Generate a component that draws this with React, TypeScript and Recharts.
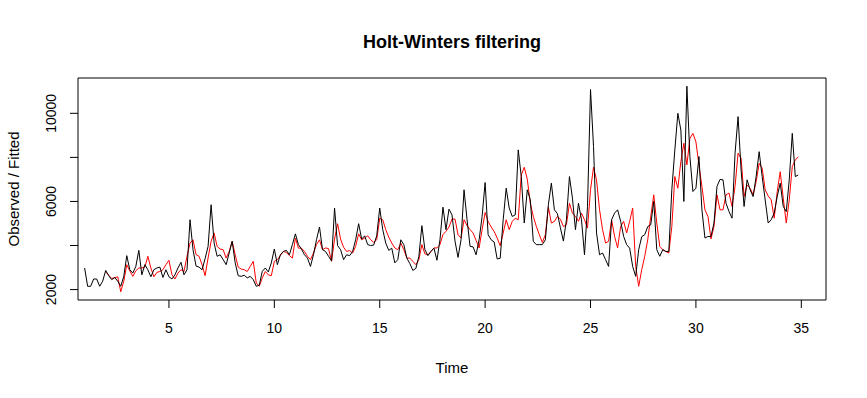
import { LineChart, Line, XAxis, YAxis, ReferenceArea } from "recharts";

// daily series, weekly season: time = START + i / FREQ
const START = 1;
const FREQ = 7;

const observed = [
  2980, 2150, 2150, 2480, 2480, 2150, 2380, 2870, 2630, 2450,
  2550, 2380, 2150, 2600, 3540, 2900, 2750, 3050, 3780, 2670,
  3130, 2900, 2580, 2900, 2980, 3020, 2550, 2900, 2580, 2480,
  2670, 2980, 3240, 2670, 2900, 5170, 3810, 3070, 3020, 2900,
  3400, 3960, 5850, 4110, 3510, 3580, 3360, 3130, 3660, 4190,
  3210, 2630, 2600, 2650, 2530, 2600, 2450, 2150, 2200, 2830,
  2980, 2800, 3210, 3840, 3130, 3580, 3730, 3780, 3580, 4040,
  4530, 4040, 3840, 3580, 3430, 3050, 3580, 4260, 4840, 3810,
  3730, 3510, 3300, 5700, 4000, 3810, 3360, 3580, 3540, 3730,
  4260, 4990, 4290, 4440, 4040, 4000, 4020, 4440, 5700, 4720,
  4110, 3780, 3880, 3210, 3360, 4260, 4040, 3430, 3180, 2870,
  2960, 3510, 4900, 3810, 3540, 3730, 3880, 3330, 4260, 5740,
  4720, 5650, 5390, 4200, 3460, 4260, 6530, 5170, 3960, 3940,
  3580, 4260, 5320, 6860, 4490, 4260, 4160, 3390, 3420, 5170,
  6600, 5700, 5320, 5390, 8340, 7130, 5020, 6530, 6080, 4190,
  4040, 4040, 4040, 4260, 5850, 6830, 5620, 5450, 4800, 4200,
  5170, 7130, 6150, 4720, 5920, 5170, 3580, 5770, 11080, 8490,
  4570, 3580, 3660, 3360, 3050, 5170, 5470, 5620, 5100, 4410,
  4040, 3880, 3050, 2600, 3810, 4400, 4490, 4860, 4940, 6000,
  3810, 3510, 3810, 3730, 3730, 6530, 8340, 10000, 9240, 6000,
  11230, 8040, 6450, 6600, 8040, 5620, 4340, 4410, 4410, 5020,
  6680, 7000, 6980, 5920, 5540, 5240, 8190, 9850, 7430, 5770,
  6980, 6530, 6220, 7130, 8260, 7130, 6070, 5020, 5170, 5470,
  6220, 6830, 5770, 5540, 6980, 9090, 7130, 7200,
];

// fitted values start one season after the observations (time 2)
const fitted = [
  2800, 2650, 2500,
  2540, 2580, 1900, 2380, 3130, 2850, 2600, 2850, 2980, 2980,
  3020, 3510, 2980, 2580, 2780, 2820, 2900, 3130, 3330, 2670,
  2480, 2750, 2900, 2820, 3510, 4110, 4260, 3590, 3510, 3130,
  2630, 3430, 4190, 4570, 3960, 3840, 3810, 3430, 3730, 4190,
  3580, 3020, 2930, 2900, 2820, 3050, 3280, 2300, 2150, 2530,
  2820, 2670, 2630, 3280, 3360, 3540, 3730, 3690, 3540, 3430,
  4340, 3880, 3880, 3730, 3510, 3360, 3660, 4040, 4260, 3810,
  3890, 3860, 3280, 4290, 4990, 4290, 3920, 3730, 3770, 3660,
  3960, 4530, 4260, 4340, 4440, 4260, 4140, 4260, 5240, 5170,
  4720, 4380, 4110, 3890, 3810, 4110, 3810, 3430, 3430, 3280,
  3130, 3360, 4040, 3620, 3580, 3730, 3890, 3890, 4040, 4500,
  4640, 4840, 5200, 5200, 4490, 4340, 5170, 4900, 4720, 4570,
  4230, 3890, 4720, 5500, 5090, 4840, 4640, 4340, 3990, 4570,
  5170, 4720, 5090, 5240, 5170, 7200, 7550, 7010, 5920, 5320,
  4870, 4490, 4140, 4490, 5740, 5020, 5090, 5320, 5200, 4860,
  4940, 5920, 5470, 5320, 5100, 5470, 5170, 4790, 6530, 7550,
  6980, 5620, 4720, 4110, 4190, 5170, 4410, 3890, 4860, 5100,
  4570, 5100, 5700, 3050, 2150, 2900, 3510, 4260, 5320, 6300,
  5020, 3960, 3810, 3730, 3660, 4860, 7130, 6600, 7810, 8640,
  7660, 8860, 9090, 8710, 7660, 6680, 5620, 5320, 4300, 4860,
  6300, 5620, 5620, 6300, 6380, 5770, 6680, 8190, 7960, 6220,
  6750, 6600, 6300, 6900, 7730, 7510, 6530, 6250, 6070, 5240,
  6450, 7350, 6150, 5020, 6070, 7580, 7880, 8030,
];

const xTicks = [5, 10, 15, 20, 25, 30, 35];
const yTicks = [2000, 4000, 6000, 8000, 10000];
const yTickLabels = [2000, 6000, 10000];

const data = observed.map((v, i) => ({
  t: START + i / FREQ,
  obs: v,
  fit: i >= FREQ ? fitted[i - FREQ] : null,
}));

// R style 4% padding; x range taken from the fitted part like plot.HoltWinters
const pad = (lo: number, hi: number): [number, number] => {
  const d = (hi - lo) * 0.04;
  return [lo - d, hi + d];
};
const xDomain = pad(START + 1, START + (observed.length - 1) / FREQ);
const allVals = [...observed, ...fitted];
const yDomain = pad(Math.min(...allVals), Math.max(...allVals));

const FONT = "'Liberation Sans', Arial, sans-serif";

const XTick = ({ x, payload }: any) => (
  <text x={x} y={333} textAnchor="middle" fontSize={14} fontFamily={FONT} fill="#000">
    {payload.value}
  </text>
);

const YTick = ({ y, payload }: any) => {
  if (!yTickLabels.includes(payload.value)) return null;
  return (
    <text
      x={56}
      y={y}
      transform={`rotate(-90, 56, ${y})`}
      textAnchor="middle"
      fontSize={14}
      fontFamily={FONT}
      fill="#000"
    >
      {payload.value}
    </text>
  );
};

export default function App() {
  return (
    <div style={{ position: "absolute", left: 0, top: 0, width: 867, height: 398, background: "#fff" }}>
      <LineChart
        width={867}
        height={398}
        data={data}
        margin={{ top: 78, right: 41, bottom: 0, left: 0 }}
      >
        <XAxis
          type="number"
          dataKey="t"
          domain={xDomain}
          ticks={xTicks}
          allowDataOverflow
          height={98}
          axisLine={false}
          tickSize={8}
          tickLine={{ stroke: "#000" }}
          tick={<XTick />}
        />
        <YAxis
          type="number"
          domain={yDomain}
          ticks={yTicks}
          allowDataOverflow
          width={78}
          axisLine={false}
          tickSize={8}
          tickLine={{ stroke: "#000" }}
          tick={<YTick />}
        />
        <Line
          dataKey="fit"
          stroke="#ff0000"
          strokeWidth={1}
          dot={false}
          type="linear"
          isAnimationActive={false}
        />
        <Line
          dataKey="obs"
          stroke="#000000"
          strokeWidth={1}
          dot={false}
          type="linear"
          isAnimationActive={false}
        />
        <ReferenceArea
          x1={xDomain[0]}
          x2={xDomain[1]}
          y1={yDomain[0]}
          y2={yDomain[1]}
          fill="none"
          fillOpacity={0}
          stroke="#000"
          strokeWidth={1}
        />
      </LineChart>
      <svg
        width={867}
        height={398}
        style={{ position: "absolute", left: 0, top: 0, pointerEvents: "none" }}
      >
        <text x={452} y={48} textAnchor="middle" fontSize={18} fontWeight="bold" fontFamily={FONT}>
          Holt-Winters filtering
        </text>
        <text x={452} y={373} textAnchor="middle" fontSize={15} fontFamily={FONT}>
          Time
        </text>
        <text
          x={19}
          y={189}
          transform="rotate(-90, 19, 189)"
          textAnchor="middle"
          fontSize={15}
          fontFamily={FONT}
        >
          Observed / Fitted
        </text>
      </svg>
    </div>
  );
}
